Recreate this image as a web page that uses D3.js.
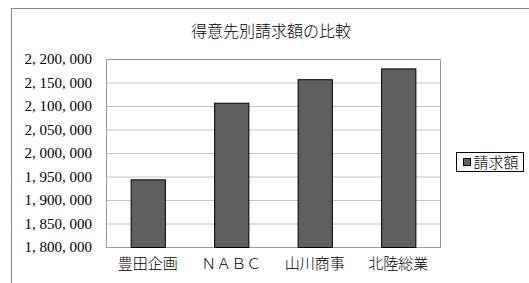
<!DOCTYPE html>
<html>
<head>
<meta charset="utf-8">
<script src="https://cdn.jsdelivr.net/npm/d3@7"></script>
<style>
  body { margin: 0; background: #fff; }
  text { font-family: "Liberation Serif", "Noto Sans CJK JP", serif; fill: #000; }
</style>
</head>
<body>
<div id="chart"></div>
<script>
// data
const categories = ["豊田企画", "ＮＡＢＣ", "山川商事", "北陸総業"];
const amounts = [1944000, 2107000, 2157000, 2180000];
const yTicks = [1800000, 1850000, 1900000, 1950000, 2000000, 2050000, 2100000, 2150000, 2200000];
const seriesName = "請求額";
const title = "得意先別請求額の比較";

const width = 529, height = 283;
const plot = { left: 106, right: 440, top: 59, bottom: 247 };

const svg = d3.select('#chart')
    .append('svg')
    .attr('width', width)
    .attr('height', height);

// outer chart frame (runs off the window on the right / bottom)
svg.append('rect')
    .attr('x', 11.5).attr('y', 8.5)
    .attr('width', 530).attr('height', 300)
    .attr('fill', '#fff')
    .attr('stroke', '#868686');

svg.append('text')
    .attr('x', 271).attr('y', 37)
    .attr('text-anchor', 'middle')
    .style('font-size', '16px')
    .style('font-weight', '300')
    .text(title);

const x = d3.scaleBand()
    .domain(categories)
    .range([plot.left, plot.right])
    .paddingInner(0.59)
    .paddingOuter(0.295);

const y = d3.scaleLinear()
    .domain([yTicks[0], yTicks[yTicks.length - 1]])
    .range([plot.bottom, plot.top]);

// gridlines
svg.append('g')
    .attr('transform', `translate(${plot.left},0)`)
    .call(d3.axisLeft(y).tickValues(yTicks).tickSize(-(plot.right - plot.left)).tickFormat(''))
    .call(g => g.select('.domain').remove())
    .call(g => g.selectAll('line').attr('stroke', '#c4c4c4'));

// plot border
svg.append('rect')
    .attr('x', plot.left + 0.5).attr('y', plot.top + 0.5)
    .attr('width', plot.right - plot.left).attr('height', plot.bottom - plot.top)
    .attr('fill', 'none')
    .attr('stroke', '#9a9a9a');

// y labels
const fmt = d3.format(',');
svg.append('g')
    .attr('transform', `translate(${plot.left - 14},0)`)
    .call(d3.axisLeft(y).tickValues(yTicks).tickSize(0).tickPadding(0)
        .tickFormat(d => fmt(d).replace(/,/g, ', ')))
    .call(g => g.select('.domain').remove())
    .call(g => g.selectAll('text')
        .style('font-size', '15px')
        .style('font-family', '"Liberation Serif", serif'));

// bars
svg.append('g').selectAll('rect')
    .data(amounts)
    .join('rect')
    .attr('x', (d, i) => x(categories[i]) + 0.5)
    .attr('y', d => y(d) + 0.5)
    .attr('width', x.bandwidth())
    .attr('height', d => y(yTicks[0]) - y(d))
    .attr('fill', '#5f5f5f')
    .attr('stroke', '#000')
    .attr('stroke-width', 1);

// category labels
svg.append('g')
    .attr('transform', `translate(0,${plot.bottom})`)
    .call(d3.axisBottom(x).tickSize(0).tickPadding(0))
    .call(g => g.select('.domain').remove())
    .call(g => g.selectAll('text')
        .attr('dy', '1.45em')
        .style('font-size', '15px')
        .style('font-weight', '300')
        .style('font-family', '"Noto Sans CJK JP", sans-serif'));

// legend
const legend = svg.append('g').attr('transform', 'translate(456.5,152.5)');
legend.append('rect')
    .attr('width', 67).attr('height', 19)
    .attr('fill', '#fff')
    .attr('stroke', '#000');
legend.append('rect')
    .attr('x', 7).attr('y', 6)
    .attr('width', 7).attr('height', 7)
    .attr('fill', '#5f5f5f')
    .attr('stroke', '#000');
legend.append('text')
    .attr('x', 17).attr('y', 15)
    .style('font-size', '15px')
    .style('font-weight', '300')
    .style('font-family', '"Noto Sans CJK JP", sans-serif')
    .text(seriesName);
</script>
</body>
</html>
